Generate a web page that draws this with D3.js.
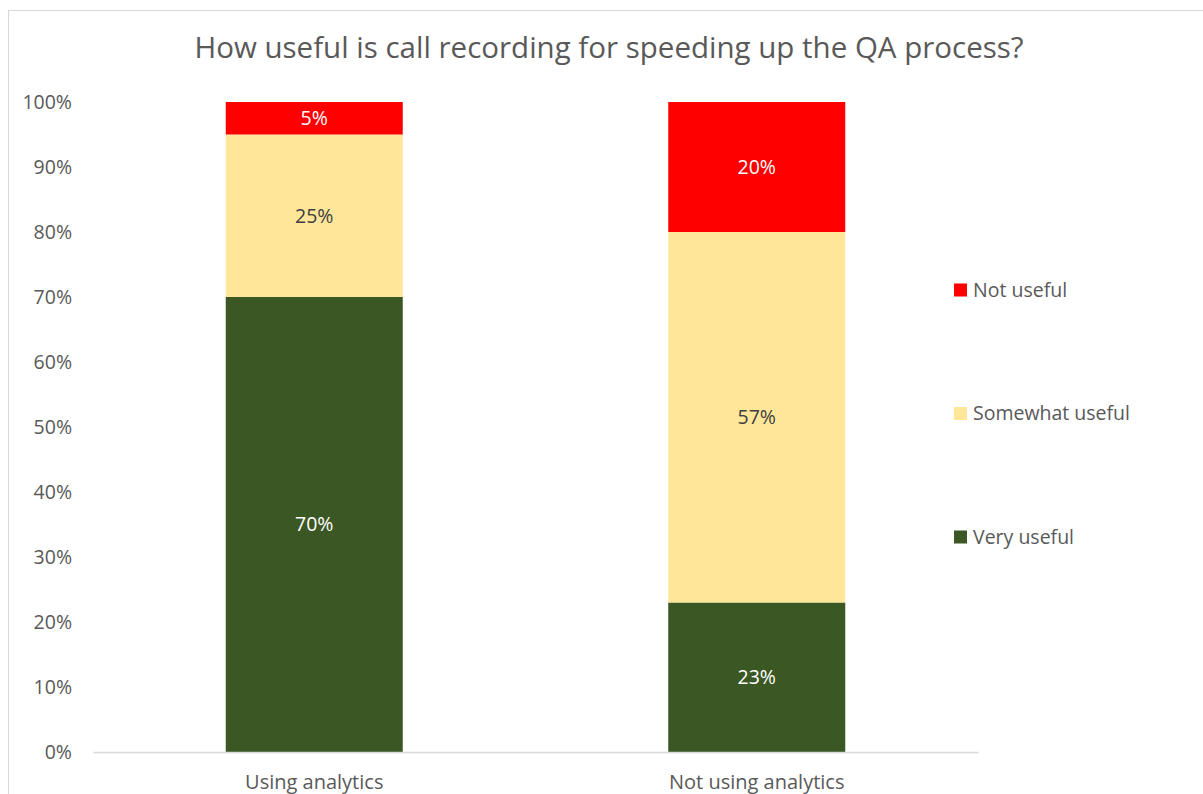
<!DOCTYPE html>
<html>
<head>
<meta charset="utf-8">
<script src="https://cdn.jsdelivr.net/npm/d3@7"></script>
<style>
	body { margin: 0; background: #fff; }
	svg { display: block; font-family: "Open Sans", "Noto Sans", sans-serif; }
</style>
</head>
<body>
<div id="chart"></div>
<script>
// data
var categories = ["Using analytics", "Not using analytics"];
var seriesNames = ["Very useful", "Somewhat useful", "Not useful"];
var veryUseful = [70, 23];
var somewhatUseful = [25, 57];
var notUseful = [5, 20];
var yTicks = [0, 10, 20, 30, 40, 50, 60, 70, 80, 90, 100];

var colors = { "Very useful": "#3b5724", "Somewhat useful": "#ffe699", "Not useful": "#ff0000" };
var labelColors = { "Very useful": "#ffffff", "Somewhat useful": "#404040", "Not useful": "#ffffff" };

var fontFamily = '"Open Sans", "Noto Sans", sans-serif';
var width = 1203, height = 794;
var margin = { left: 93, right: 225, top: 102, bottom: 42 };

var svg = d3.select("#chart").append("svg")
	.attr("width", width)
	.attr("height", height);

// chart border (cut off on the right and bottom like the screenshot)
svg.append("rect")
	.attr("x", 8.5).attr("y", 10.5)
	.attr("width", 1300).attr("height", 900)
	.attr("fill", "none")
	.attr("stroke", "#d9d9d9");

svg.append("text")
	.attr("x", 609).attr("y", 58)
	.attr("text-anchor", "middle")
	.attr("fill", "#595959")
	.style("font-size", "29.5px")
	.text("How useful is call recording for speeding up the QA process?");

var rows = categories.map(function(c, i) {
	return { category: c, "Very useful": veryUseful[i], "Somewhat useful": somewhatUseful[i], "Not useful": notUseful[i] };
});

var x = d3.scaleBand()
	.domain(categories)
	.range([margin.left, width - margin.right])
	.padding(0);

var y = d3.scaleLinear()
	.domain([0, 100])
	.range([height - margin.bottom, margin.top]);

var barW = x.bandwidth() * 0.4;

// y axis labels
var yAxis = svg.append("g")
	.attr("transform", "translate(" + 72 + ",0)")
	.call(d3.axisLeft(y).tickValues(yTicks).tickSize(0).tickPadding(0).tickFormat(function(d) { return d + "%"; }));
yAxis.attr("font-family", fontFamily);
yAxis.select(".domain").remove();
yAxis.selectAll("text")
	.attr("fill", "#595959")
	.attr("dy", "0.35em")
	.style("font-size", "19.5px");

var stack = d3.stack().keys(seriesNames);
var layers = stack(rows);

var layer = svg.selectAll(".layer")
	.data(layers)
	.enter().append("g")
	.attr("class", "layer")
	.attr("fill", function(d) { return colors[d.key]; });

layer.selectAll("rect")
	.data(function(d) { return d; })
	.enter().append("rect")
	.attr("x", function(d) { return x(d.data.category) + (x.bandwidth() - barW) / 2; })
	.attr("y", function(d) { return y(d[1]); })
	.attr("width", barW)
	.attr("height", function(d) { return y(d[0]) - y(d[1]); });

// data labels
layers.forEach(function(l) {
	svg.append("g").selectAll("text")
		.data(l)
		.enter().append("text")
		.attr("x", function(d) { return x(d.data.category) + x.bandwidth() / 2; })
		.attr("y", function(d) { return (y(d[0]) + y(d[1])) / 2; })
		.attr("dy", "0.35em")
		.attr("text-anchor", "middle")
		.attr("fill", labelColors[l.key])
		.style("font-size", "19.5px")
		.text(function(d) { return (d[1] - d[0]) + "%"; });
});

// x axis
var xAxis = svg.append("g")
	.attr("transform", "translate(0," + y(0) + ")")
	.call(d3.axisBottom(x).tickSize(0).tickPadding(0));
xAxis.attr("font-family", fontFamily);
xAxis.select(".domain").attr("stroke", "#d9d9d9").attr("stroke-width", 1.5);
xAxis.selectAll("text")
	.attr("y", 30)
	.attr("dy", "0.35em")
	.attr("fill", "#595959")
	.style("font-size", "20px");

// legend, top to bottom
var legendY = d3.scalePoint().domain(seriesNames.slice().reverse()).range([290, 537]);
var legend = svg.selectAll(".legend")
	.data(seriesNames)
	.enter().append("g")
	.attr("class", "legend")
	.attr("transform", function(d) { return "translate(954," + legendY(d) + ")"; });

legend.append("rect")
	.attr("x", 0).attr("y", -6.5)
	.attr("width", 13).attr("height", 13)
	.attr("fill", function(d) { return colors[d]; });

legend.append("text")
	.attr("x", 19)
	.attr("dy", "0.35em")
	.attr("fill", "#595959")
	.style("font-size", "19.5px")
	.text(function(d) { return d; });
</script>
</body>
</html>
